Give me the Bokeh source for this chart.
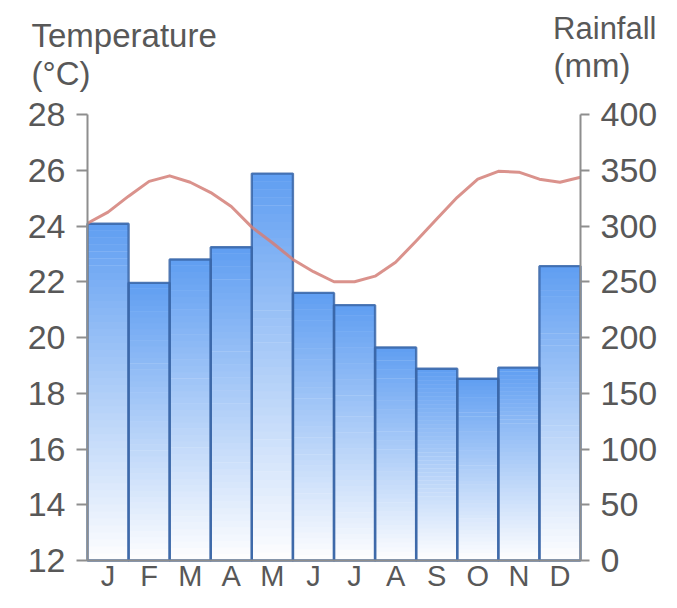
import numpy as np
from bokeh.plotting import figure
from bokeh.models import Range1d, LinearAxis, FixedTicker, Label
from bokeh.embed import file_html
from bokeh.resources import INLINE

# ---------------- data ----------------
months = ["Jan", "Feb", "Mar", "Apr", "May", "Jun",
          "Jul", "Aug", "Sep", "Oct", "Nov", "Dec"]
month_labels = ["J", "F", "M", "A", "M", "J", "J", "A", "S", "O", "N", "D"]
rainfall_mm = [302, 249, 270, 281, 347, 240, 229, 191, 172, 163, 173, 264]
# temperature read every half month, from the start of January to the end of December
temperature_c = [24.1, 24.5, 25.07, 25.6, 25.8, 25.57, 25.2, 24.7, 23.96, 23.4,
                 22.8, 22.36, 22.0, 22.0, 22.2, 22.7, 23.46, 24.25, 25.03, 25.68,
                 25.96, 25.93, 25.68, 25.57, 25.75]
temp_ticks = [12, 14, 16, 18, 20, 22, 24, 26, 28]
rain_ticks = [0, 50, 100, 150, 200, 250, 300, 350, 400]

# ---------------- layout (pixels) ----------------
W, H = 661, 592
AX_L, AX_R = 87, 580       # x pixel of the two vertical axes
AX_T, AX_B = 114, 560      # y pixel of the top tick and of the base line

FONT = "Liberation Sans"
TEXT = "#585858"
AXIS = "#8e8e8e"
BAR_TOP = np.array([96, 158, 242])
WHITE = np.array([255, 255, 255])
BAR_EDGE = "#3a66a8"
LINE = "#d47f78"

n = len(months)
t0, t1 = temp_ticks[0], temp_ticks[-1]
r0, r1 = rain_ticks[0], rain_ticks[-1]
ppx = (AX_R - AX_L) / n                    # pixels per month
ppy = (AX_B - AX_T) / (t1 - t0)            # pixels per degree
x_start = 0.5 - AX_L / ppx
x_end = n + 0.5 + (W - AX_R) / ppx
y_start = t0 - (H - AX_B) / ppy
y_end = t1 + AX_T / ppy
k = (r1 - r0) / (t1 - t0)                  # mm per degree

p = figure(width=W, height=H,
           x_range=Range1d(x_start, x_end), y_range=Range1d(y_start, y_end),
           output_backend="svg", toolbar_location=None,
           min_border_left=0, min_border_right=0, min_border_top=0, min_border_bottom=0)
p.extra_y_ranges = {"rain": Range1d(r0 + (y_start - t0) * k, r0 + (y_end - t0) * k)}
p.grid.visible = False
p.outline_line_color = None
p.background_fill_color = "white"
p.border_fill_color = "white"

# ---------------- bars with vertical gradient ----------------
N = 48
xc = np.arange(1, n + 1)
L, R, B, T, C = [], [], [], [], []
for x, h in zip(xc, rainfall_mm):
    for j in range(N):
        L.append(x - 0.5)
        R.append(x + 0.5)
        B.append(h * j / N)
        T.append(h * (j + 1) / N + 0.4)
        t = (j + 0.5) / N
        rgb = (WHITE + (BAR_TOP - WHITE) * t).astype(int)
        C.append("#%02x%02x%02x" % tuple(rgb))
p.quad(left=L, right=R, bottom=B, top=T, fill_color=C, line_color=None,
       y_range_name="rain")
p.quad(left=xc - 0.5, right=xc + 0.5, bottom=0, top=rainfall_mm,
       fill_color=None, line_color=BAR_EDGE, line_width=2.4, line_alpha=0.85,
       y_range_name="rain")

# ---------------- temperature line ----------------
tx = np.linspace(0.5, n + 0.5, len(temperature_c))
p.line(tx, temperature_c, line_color=LINE, line_width=3, line_alpha=0.85,
       line_join="round")

# ---------------- axes ----------------
def style(ax, tick_out, standoff, size="34px"):
    ax.axis_line_color = AXIS
    ax.axis_line_width = 2
    ax.major_tick_line_color = AXIS
    ax.major_tick_line_width = 2
    ax.major_tick_out = tick_out
    ax.major_tick_in = 0
    ax.minor_tick_out = 0
    ax.minor_tick_in = 0
    ax.major_label_text_font = FONT
    ax.major_label_text_font_size = size
    ax.major_label_text_color = TEXT
    ax.major_label_standoff = standoff

ly = p.yaxis[0]
ly.ticker = FixedTicker(ticks=temp_ticks)
ly.fixed_location = 0.5
ly.bounds = (t0, t1)
style(ly, 11, 11)

ry = LinearAxis(y_range_name="rain", ticker=FixedTicker(ticks=rain_ticks),
                fixed_location=n + 0.5, bounds=(r0, r1))
style(ry, 9, 11)
p.add_layout(ry, "right")

bx = p.xaxis[0]
bx.ticker = FixedTicker(ticks=list(xc))
bx.major_label_overrides = {int(i): lab for i, lab in zip(xc, month_labels)}
bx.fixed_location = t0
bx.bounds = (0.5, n + 0.5)
style(bx, 0, -1, "29px")

# ---------------- axis titles ----------------
def title(text, x, baseline, size="33px", align="left"):
    p.add_layout(Label(x=x, y=H - baseline, x_units="screen", y_units="screen",
                       text=text, text_font=FONT, text_font_size=size,
                       text_color=TEXT, text_baseline="alphabetic", text_align=align))

title("Temperature", 31, 35)
title("(°C)", 31, 73)
title("Rainfall", 656, 28, "31px", "right")
title("(mm)", 553, 65)

open("out.html", "w").write(file_html(p, INLINE))
